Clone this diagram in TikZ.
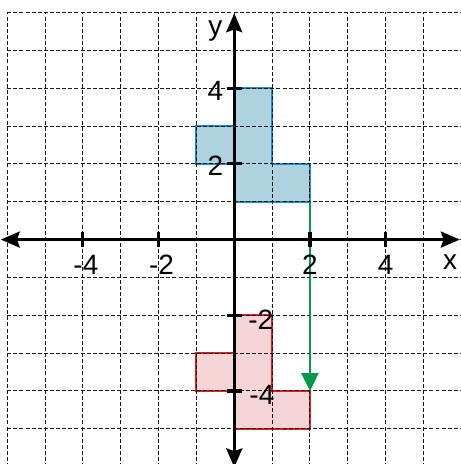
\documentclass[tikz,border=0pt]{standalone}
\usepackage{fontspec}
\setmainfont{Liberation Sans}
\usetikzlibrary{arrows.meta}
\definecolor{shapeblue}{RGB}{175,210,224}
\definecolor{edgeblue}{RGB}{25,140,210}
\definecolor{shapered}{RGB}{244,212,212}
\definecolor{edgered}{RGB}{225,30,30}
\definecolor{arrowgreen}{RGB}{0,155,75}
\begin{document}
\begin{tikzpicture}[x=1cm,y=1cm,
  gridline/.style={black!90, line width=0.7pt, dash pattern=on 3pt off 1.6pt},
  axisline/.style={line width=2.4pt, {Stealth[length=0.5cm,width=0.42cm,inset=0.07cm]}-{Stealth[length=0.5cm,width=0.42cm,inset=0.07cm]}},
  tickmark/.style={line width=2.4pt},
  bluefig/.style={fill=shapeblue, draw=edgeblue, line width=1.6pt},
  redfig/.style={fill=shapered, draw=edgered, line width=1.6pt},
  movearrow/.style={arrowgreen, line width=1.6pt, -{Triangle[length=0.47cm,width=0.45cm]}},
  lbl/.style={font=\fontsize{21}{24}\selectfont, inner sep=0pt}]
\useasboundingbox (-6.19,-5.93) rectangle (5.99,6.33);
\clip (-6.19,-5.93) rectangle (5.99,6.33);
% shapes
\draw[bluefig] (0,1) -- (2,1) -- (2,2) -- (1,2) -- (1,4) -- (0,4) -- (0,3) -- (-1,3) -- (-1,2) -- (0,2) -- cycle;
\draw[redfig] (0,-5) -- (2,-5) -- (2,-4) -- (1,-4) -- (1,-2) -- (0,-2) -- (0,-3) -- (-1,-3) -- (-1,-4) -- (0,-4) -- cycle;
% grid
\draw[gridline] (-6,-6.5) grid (6.5,6);
% move arrow
\coordinate (from) at (2,1);
\coordinate (to) at (2,-4);
\draw[movearrow] (from) -- (to);
% axes
\coordinate (xl) at (-6.17,0);
\coordinate (xr) at (5.96,0);
\coordinate (yt) at (0,5.98);
\coordinate (yb) at (0,-6.02);
\draw[axisline] (xl) -- (xr);
\draw[axisline] (yb) -- (yt);
% ticks
\foreach \v in {-4,-2,2,4} {
  \draw[tickmark] (\v,-0.2) -- (\v,0.2);
  \draw[tickmark] (-0.2,\v) -- (0.2,\v);
}
% labels
\node[lbl] (xm4) at (-3.92,-0.67) {-4};
\node[lbl] (xm2) at (-1.92,-0.67) {-2};
\node[lbl] (xp2) at (2,-0.67) {2};
\node[lbl] (xp4) at (4,-0.67) {4};
\node[lbl] (xname) at (5.7,-0.6) {x};
\node[lbl] (yp4) at (-0.5,3.93) {4};
\node[lbl] (yp2) at (-0.5,1.95) {2};
\node[lbl] (ym2) at (0.7,-2.13) {-2};
\node[lbl] (ym4) at (0.73,-4.1) {-4};
\node[lbl] (yname) at (-0.5,5.5) {y};
\end{tikzpicture}
\end{document}
